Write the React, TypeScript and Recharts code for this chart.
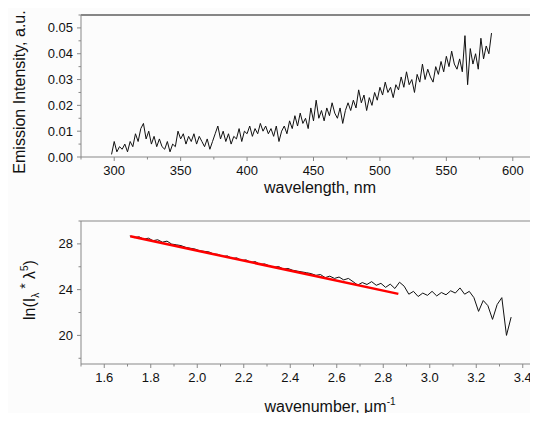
import React from 'react';
import { LineChart, Line, XAxis, YAxis, ReferenceLine, Label } from 'recharts';

// emission spectrum, sampled every 2 nm from 298 nm
const WL_START = 298;
const WL_STEP = 2;
const intensity = [
  0.001, 0.006, 0.002, 0.004, 0.003, 0.005, 0.002, 0.006, 0.004, 0.009,
  0.006, 0.011, 0.013, 0.007, 0.010, 0.005, 0.008, 0.004, 0.007, 0.004,
  0.003, 0.006, 0.002, 0.005, 0.004, 0.010, 0.007, 0.009, 0.005, 0.008,
  0.006, 0.009, 0.005, 0.008, 0.006, 0.004, 0.007, 0.003, 0.006, 0.009,
  0.012, 0.007, 0.010, 0.006, 0.009, 0.005, 0.008, 0.007, 0.011, 0.006,
  0.010, 0.009, 0.012, 0.008, 0.011, 0.009, 0.013, 0.010, 0.012, 0.009,
  0.011, 0.008, 0.012, 0.006, 0.010, 0.012, 0.009, 0.014, 0.011, 0.016,
  0.012, 0.017, 0.013, 0.015, 0.011, 0.019, 0.014, 0.022, 0.015, 0.018,
  0.014, 0.019, 0.016, 0.021, 0.017, 0.015, 0.019, 0.013, 0.018, 0.021,
  0.018, 0.022, 0.019, 0.026, 0.021, 0.024, 0.018, 0.023, 0.020, 0.025,
  0.022, 0.027, 0.024, 0.029, 0.025, 0.027, 0.023, 0.028, 0.026, 0.031,
  0.027, 0.033, 0.028, 0.030, 0.025, 0.032, 0.029, 0.036, 0.030, 0.034,
  0.031, 0.029, 0.035, 0.032, 0.037, 0.033, 0.039, 0.035, 0.041, 0.036,
  0.034, 0.038, 0.033, 0.047, 0.028, 0.042, 0.036, 0.040, 0.034, 0.046,
  0.038, 0.043, 0.040, 0.048,
];

// ln(I*lambda^5) vs wavenumber, every 0.02 um^-1 from 1.71
const K_START = 1.71;
const K_STEP = 0.02;
const lnValues = [
  28.70, 28.55, 28.62, 28.41, 28.50, 28.28, 28.36, 28.15, 28.24, 27.98,
  27.92, 27.85, 27.70, 27.62, 27.55, 27.40, 27.35, 27.30, 27.12, 27.08,
  26.90, 26.95, 26.72, 26.78, 26.55, 26.60, 26.38, 26.45, 26.20, 26.25,
  26.08, 25.95, 26.02, 25.80, 25.85, 25.70, 25.62, 25.55, 25.48, 25.40,
  25.25, 25.32, 25.05, 25.18, 24.98, 25.10, 24.85, 24.98, 24.70, 24.40,
  24.62, 24.45, 24.70, 24.38, 24.55, 24.20, 24.48, 24.10, 24.65, 24.30,
  23.60, 23.85, 23.40, 23.70, 23.50, 23.85, 23.45, 23.75, 23.55, 23.90,
  23.70, 24.15, 23.60, 23.85, 23.30, 22.10, 23.05, 22.60, 21.40, 22.70,
  23.30, 20.00, 21.60,
];

// linear fit endpoints
const fitK = [1.712, 2.865];
const fitLn = [28.66, 23.63];

const topXTicks = [275, 300, 325, 350, 375, 400, 425, 450, 475, 500, 525, 550, 575, 600, 625];
const topXMajor = [300, 350, 400, 450, 500, 550, 600];
const topYTicks = [0, 0.005, 0.01, 0.015, 0.02, 0.025, 0.03, 0.035, 0.04, 0.045, 0.05, 0.055];
const topYMajor = [0, 0.01, 0.02, 0.03, 0.04, 0.05];

const botXTicks = [1.5, 1.6, 1.7, 1.8, 1.9, 2.0, 2.1, 2.2, 2.3, 2.4, 2.5, 2.6, 2.7, 2.8, 2.9, 3.0, 3.1, 3.2, 3.3, 3.4, 3.5];
const botXMajor = [1.6, 1.8, 2.0, 2.2, 2.4, 2.6, 2.8, 3.0, 3.2, 3.4];
const botYTicks = [18, 20, 22, 24, 26, 28, 30];
const botYMajor = [20, 24, 28];

const spectrum = intensity.map((v, i) => ({ wl: WL_START + i * WL_STEP, v }));
const lnData = lnValues.map((v, i) => ({ k: +(K_START + i * K_STEP).toFixed(3), v }));
const fitData = fitK.map((k, i) => ({ k, v: fitLn[i] }));

const FONT = "Arial, 'Liberation Sans', sans-serif";
const AXIS = '#888';

const isMajor = (list: number[], v: number) => list.some((m) => Math.abs(m - v) < 1e-9);

const makeXTick = (majors: number[], fmt: (v: number) => string, gap: number) => (props: any) => {
  const { x, y, payload } = props;
  const major = isMajor(majors, payload.value);
  return (
    <g>
      <line x1={x} x2={x} y1={y} y2={y + (major ? 4 : 2.5)} stroke={AXIS} />
      {major && (
        <text x={x} y={y + gap} dy="0.35em" textAnchor="middle" fontSize={13} fontFamily={FONT} fill="#111">
          {fmt(payload.value)}
        </text>
      )}
    </g>
  );
};

const makeYTick = (majors: number[], fmt: (v: number) => string) => (props: any) => {
  const { x, y, payload } = props;
  const major = isMajor(majors, payload.value);
  return (
    <g>
      <line x1={x - (major ? 4 : 2.5)} x2={x} y1={y} y2={y} stroke={AXIS} />
      {major && (
        <text x={x - 8} y={y} dy="0.35em" textAnchor="end" fontSize={13} fontFamily={FONT} fill="#111">
          {fmt(payload.value)}
        </text>
      )}
    </g>
  );
};

export default function App() {
  return (
    <div style={{ position: 'relative', margin: -8, width: 538, height: 421, overflow: 'hidden', background: '#fcfcfc' }}>
      <div style={{ position: 'absolute', left: 0, top: 0 }}>
        <LineChart width={560} height={200} data={spectrum} margin={{ top: 15, right: 14, bottom: 0, left: 0 }}>
          <XAxis
            dataKey="wl"
            type="number"
            domain={[275, 625]}
            ticks={topXTicks}
            interval={0}
            tickSize={0}
            tickMargin={0}
            stroke={AXIS}
            tick={makeXTick(topXMajor, (v) => String(v), 13)}
            height={43}
          >
            <Label
              content={() => (
                <text x={320} y={187} dy="0.35em" textAnchor="middle" fontSize={16} fontFamily={FONT} fill="#111">
                  wavelength, nm
                </text>
              )}
            />
          </XAxis>
          <YAxis
            type="number"
            domain={[0, 0.055]}
            ticks={topYTicks}
            interval={0}
            tickSize={0}
            tickMargin={0}
            stroke={AXIS}
            width={81}
            tick={makeYTick(topYMajor, (v) => v.toFixed(2))}
          >
            <Label
              content={() => (
                <text
                  x={19}
                  y={92}
                  dy="0.35em"
                  textAnchor="middle"
                  transform="rotate(-90 19 92)"
                  fontSize={16}
                  fontFamily={FONT}
                  fill="#111"
                >
                  Emission Intensity, a.u.
                </text>
              )}
            />
          </YAxis>
          <ReferenceLine y={0.055} stroke="#111" strokeWidth={1} />
          <Line dataKey="v" type="linear" stroke="#111" strokeWidth={1} dot={false} isAnimationActive={false} />
        </LineChart>
      </div>

      <div style={{ position: 'absolute', left: 0, top: 200 }}>
        <LineChart width={560} height={221} margin={{ top: 21, right: 14, bottom: 0, left: 0 }}>
          <XAxis
            dataKey="k"
            type="number"
            domain={[1.5, 3.5]}
            ticks={botXTicks}
            interval={0}
            tickSize={0}
            tickMargin={0}
            stroke={AXIS}
            allowDuplicatedCategory={false}
            tick={makeXTick(botXMajor, (v) => v.toFixed(1), 13)}
            height={57}
          >
            <Label
              content={() => (
                <text x={330} y={206} dy="0.35em" textAnchor="middle" fontSize={16} fontFamily={FONT} fill="#111">
                  wavenumber, μm
                  <tspan fontSize={10} dy={-7}>-1</tspan>
                </text>
              )}
            />
          </XAxis>
          <YAxis
            type="number"
            domain={[17.5, 30]}
            ticks={botYTicks}
            interval={0}
            tickSize={0}
            tickMargin={0}
            stroke={AXIS}
            width={81}
            tick={makeYTick(botYMajor, (v) => String(v))}
          >
            <Label
              content={() => (
                <text
                  x={29}
                  y={90}
                  dy="0.35em"
                  textAnchor="middle"
                  transform="rotate(-90 29 90)"
                  fontSize={16}
                  fontFamily={FONT}
                  fill="#111"
                >
                  ln(I
                  <tspan fontSize={10} dy={4}>λ</tspan>
                  <tspan fontSize={14} dy={-9}> *</tspan>
                  <tspan fontSize={16} dy={5}> λ</tspan>
                  <tspan fontSize={10} dy={-7}>5</tspan>
                  <tspan fontSize={16} dy={7}>)</tspan>
                </text>
              )}
            />
          </YAxis>
          <ReferenceLine y={30} stroke={AXIS} strokeWidth={1} />
          <Line data={lnData} dataKey="v" type="linear" stroke="#111" strokeWidth={1} dot={false} isAnimationActive={false} />
          <Line data={fitData} dataKey="v" type="linear" stroke="#ff0000" strokeWidth={2.5} dot={false} isAnimationActive={false} />
        </LineChart>
      </div>
    </div>
  );
}
